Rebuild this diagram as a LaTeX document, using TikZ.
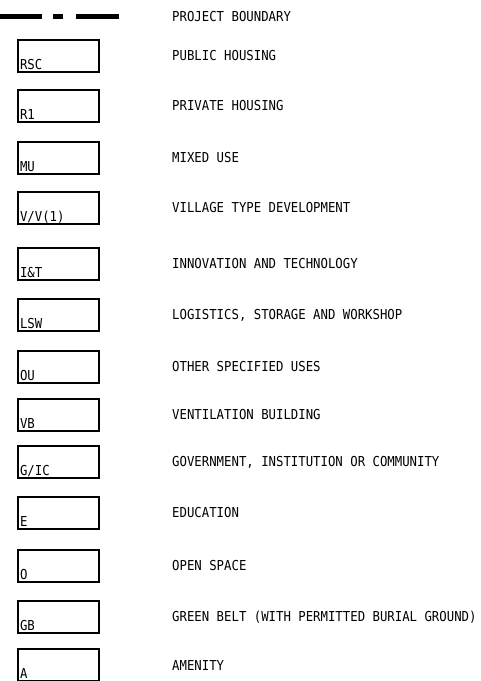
\documentclass[tikz,border=0pt]{standalone}
\usepackage{fontspec}
\newfontfamily\cadfont[FakeStretch=0.9]{DejaVu Sans Mono}
\begin{document}
\begin{tikzpicture}[x=1pt,y=-1pt,
  legbox/.style={draw=black, line width=1.4pt, minimum width=81pt, minimum height=32pt, inner sep=0pt},
  boxlabel/.style={anchor=base west, inner sep=0pt, font=\cadfont\fontsize{13.7}{15}\selectfont},
  desc/.style={anchor=west, inner sep=0pt, font=\cadfont\fontsize{13.7}{15}\selectfont},
  bound/.style={line width=5.5pt, line cap=butt}]
\useasboundingbox (0,0) rectangle (480,681);
% project boundary symbol
\draw[bound] (0,16.5) -- (42,16.5);
\draw[bound] (53,16.5) -- (63,16.5);
\draw[bound] (76,16.5) -- (119,16.5);
\node[desc] (tpb) at (172,17) {PROJECT BOUNDARY};
\foreach \t/\code/\txt/\nm in {
  40/RSC/PUBLIC HOUSING/b1,
  90/R1/PRIVATE HOUSING/b2,
  142/MU/MIXED USE/b3,
  192/V\slash V(1)/VILLAGE TYPE DEVELOPMENT/b4,
  248/I\&T/INNOVATION AND TECHNOLOGY/b5,
  299/LSW/{LOGISTICS, STORAGE AND WORKSHOP}/b6,
  351/OU/OTHER SPECIFIED USES/b7,
  399/VB/VENTILATION BUILDING/b8,
  446/G\slash IC/{GOVERNMENT, INSTITUTION OR COMMUNITY}/b9,
  497/E/EDUCATION/b10,
  550/O/OPEN SPACE/b11,
  601/GB/GREEN BELT (WITH PERMITTED BURIAL GROUND)/b12,
  649/A/AMENITY/b13}{
  \node[legbox] (\nm) at (58.5,\t+16) {};
  \node[boxlabel] (\nm c) at ([xshift=2.5pt,yshift=3.5pt]\nm.south west) {\code};
  \node[desc] (\nm t) at (172,\t+16) {\txt};
}
\end{tikzpicture}
\end{document}
